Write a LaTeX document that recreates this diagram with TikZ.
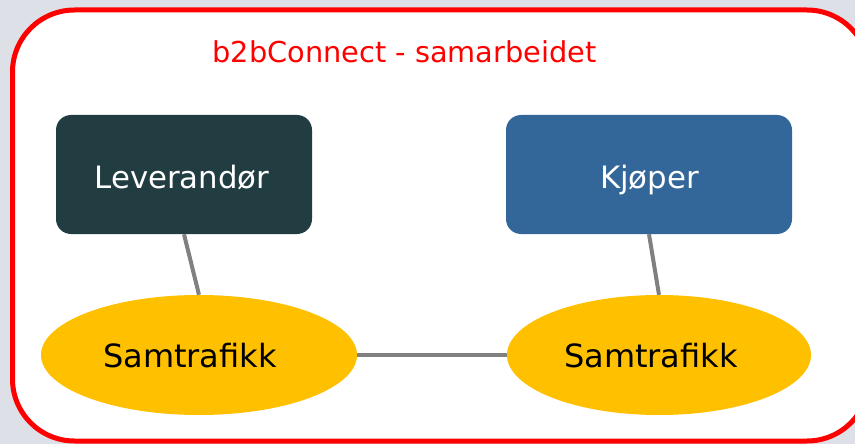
\documentclass[tikz,border=0pt]{standalone}
\usepackage{fontspec}
\setmainfont{DejaVu Sans}
\usetikzlibrary{shapes.geometric}
\definecolor{bgc}{HTML}{DDE0E6}
\definecolor{levc}{HTML}{213D42}
\definecolor{kjc}{HTML}{336699}
\definecolor{yel}{HTML}{FFC000}
\definecolor{linec}{HTML}{808080}
\tikzset{
  boxnode/.style={draw=none, rounded corners=15pt, minimum width=256pt, minimum height=119pt, inner sep=0pt},
  ellnode/.style={ellipse, fill=yel, draw=none, minimum width=316pt, minimum height=120pt, inner sep=0pt},
  boxtxt/.style={anchor=base, text=white, font=\fontsize{30.8}{36}\selectfont, inner sep=0pt},
  elltxt/.style={anchor=base, text=black, font=\fontsize{32}{38}\selectfont, inner sep=0pt},
  conn/.style={draw=linec, line width=4pt},
}
\begin{document}
\begin{tikzpicture}[x=1pt,y=-1pt]
\useasboundingbox (0,0) rectangle (855,444);
\fill[bgc] (0,0) rectangle (855,444);
\begin{scope}
\clip (0,0) rectangle (855,444);
\draw[red, line width=5pt, fill=white, rounded corners=62pt] (12.5,10) rectangle (869,441);
\end{scope}
\node[red, anchor=base, inner sep=0pt, font=\fontsize{28.8}{34}\selectfont] (title) at (404.5,63) {b2bConnect - samarbeidet};
\node[boxnode, fill=levc, minimum width=256pt] (lev) at (184,174.5) {};
\node[boxnode, fill=kjc, minimum width=286pt] (kj) at (649,174.5) {};
\node[boxtxt] (levt) at (182,188) {Leverandør};
\node[boxtxt] (kjt) at (649.5,188) {Kjøper};
\node[ellnode] (s1) at (199,355) {};
\node[ellnode, minimum width=304pt] (s2) at (659,355) {};
\node[elltxt] (s1t) at (190,367) {Samtrafikk};
\node[elltxt] (s2t) at (651,367) {Samtrafikk};
\draw[conn] (lev.south) -- (s1.north);
\draw[conn] (kj.south) -- (s2.north);
\draw[conn] (s1.east) -- (s2.west);
\end{tikzpicture}
\end{document}
